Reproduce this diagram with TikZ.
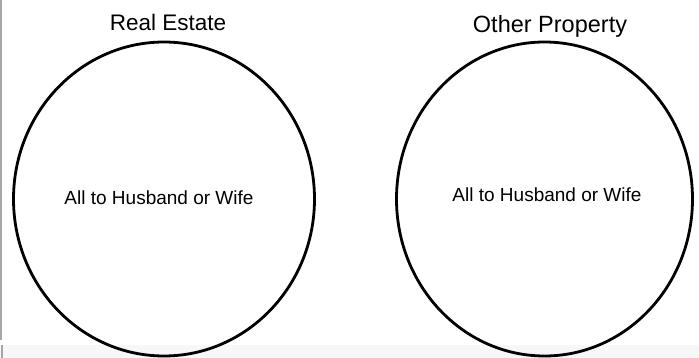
\documentclass[tikz,border=0pt]{standalone}
\usepackage{fontspec}
\setmainfont{Liberation Sans}
\usetikzlibrary{shapes.geometric}
\tikzset{
  setcircle/.style={draw=black, line width=2.8pt, ellipse, inner sep=0pt},
  titletext/.style={anchor=base, font=\fontsize{22.5}{26}\selectfont},
  innertext/.style={anchor=base, font=\fontsize{19}{22}\selectfont},
}
\begin{document}
\begin{tikzpicture}[x=1pt, y=-1pt]
\useasboundingbox (0,0) rectangle (699,358);
\fill[white] (0,0) rectangle (699,358);
\fill[gray!6] (0,345) rectangle (699,358);
\draw[gray!70, line width=1.2pt] (1,0) -- (1,340);
\draw[gray!70, line width=1.2pt] (2,345) -- (2,358);
\node[setcircle, minimum width=301pt, minimum height=314pt] (realc) at (164,199) {};
\node[setcircle, minimum width=296pt, minimum height=314pt] (otherc) at (544.5,199) {};
\node[titletext] (realt) at (168,31) {Real Estate};
\node[titletext, font=\fontsize{23.5}{27}\selectfont] (othert) at (550,33) {Other Property};
\node[innertext] (reali) at (159,205) {All to Husband or Wife};
\node[innertext] (otheri) at (547,202) {All to Husband or Wife};
\end{tikzpicture}
\end{document}
